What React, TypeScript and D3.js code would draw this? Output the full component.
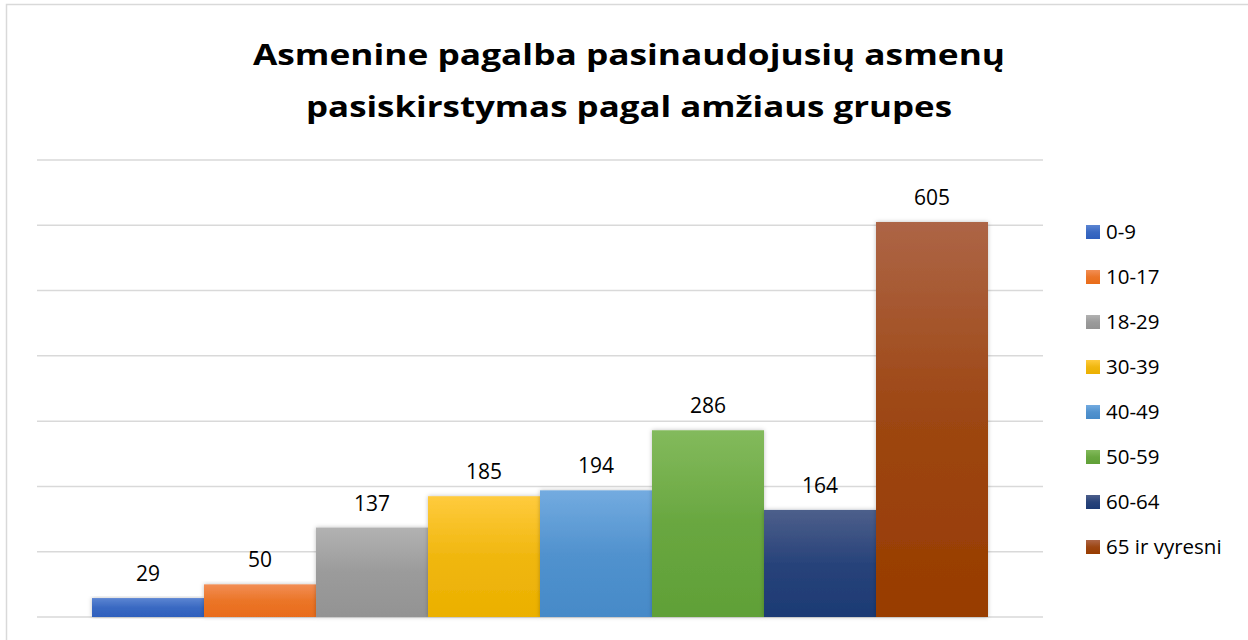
import React from "react";
import * as d3 from "d3";

const categories = ["0-9", "10-17", "18-29", "30-39", "40-49", "50-59", "60-64", "65 ir vyresni"];
const values = [29, 50, 137, 185, 194, 286, 164, 605];
const colorsTop = ["#5c85d2", "#f28e55", "#b2b2b2", "#ffcb3d", "#73abe0", "#83ba5c", "#4d5f8b", "#ad6546"];
const colorsBottom = ["#2e5fbd", "#e96c19", "#939393", "#ebb000", "#468ac8", "#60a037", "#1c3a74", "#983c00"];
const yTicks = [0, 100, 200, 300, 400, 500, 600, 700];
const titleLines = ["Asmenine pagalba pasinaudojusių asmenų", "pasiskirstymas pagal amžiaus grupes"];
const titleWidths = [752, 646];

const W = 1248;
const H = 640;
const plot = { left: 37, right: 1043, top: 160, bottom: 617 };

export default function App() {
  const y = d3.scaleLinear().domain([0, 700]).range([plot.bottom, plot.top]);
  const x = d3.scaleBand<string>().domain(categories).range([92, 988]).paddingInner(0).paddingOuter(0);
  const font = "'Open Sans', 'Liberation Sans', sans-serif";
  return (
    <svg width={W} height={H} style={{ position: "absolute", left: 0, top: 0 }}>
      <defs>
        {categories.map((c, i) => (
          <linearGradient key={c} id={`g${i}`} x1="0" y1="0" x2="0" y2="1">
            <stop offset="0%" stopColor={colorsTop[i]} />
            <stop offset="50%" stopColor={d3.interpolateRgb(colorsTop[i], colorsBottom[i])(0.75)} />
            <stop offset="100%" stopColor={colorsBottom[i]} />
          </linearGradient>
        ))}
        <filter id="sh" x="-10%" y="-10%" width="120%" height="120%">
          <feDropShadow dx="0" dy="0" stdDeviation="2" floodColor="#000" floodOpacity="0.25" />
        </filter>
      </defs>
      <rect x={0} y={0} width={W} height={H} fill="#fff" />
      <rect x={6.5} y={4.5} width={1260} height={660} fill="#fff" stroke="#d9d9d9" strokeWidth={1.5} />
      {titleLines.map((t, i) => (
        <text
          key={i}
          x={629}
          y={65 + i * 52}
          textAnchor="middle"
          fontFamily={font}
          fontWeight={700}
          fontSize={28}
          fill="#000"
          textLength={titleWidths[i]}
          lengthAdjust="spacingAndGlyphs"
        >
          {t}
        </text>
      ))}
      {yTicks.map((t) => (
        <line key={t} x1={plot.left} x2={plot.right} y1={y(t)} y2={y(t)} stroke="#d9d9d9" strokeWidth={1.5} />
      ))}
      {categories.map((c, i) => (
        <rect
          key={c}
          x={x(c)!}
          y={y(values[i])}
          width={x.bandwidth()}
          height={y(0) - y(values[i])}
          fill={`url(#g${i})`}
          filter="url(#sh)"
        />
      ))}
      {categories.map((c, i) => (
        <text
          key={c}
          x={x(c)! + x.bandwidth() / 2}
          y={y(values[i]) - 17}
          textAnchor="middle"
          fontFamily={font}
          fontSize={21}
          fill="#000"
        >
          {values[i]}
        </text>
      ))}
      {categories.map((c, i) => (
        <g key={c} transform={`translate(1086, ${232 + i * 45})`}>
          <rect x={0} y={-7} width={14} height={14} fill={`url(#g${i})`} />
          <text x={20} y={0} dy="0.36em" fontFamily={font} fontSize={20.5} fill="#000">
            {c}
          </text>
        </g>
      ))}
    </svg>
  );
}
